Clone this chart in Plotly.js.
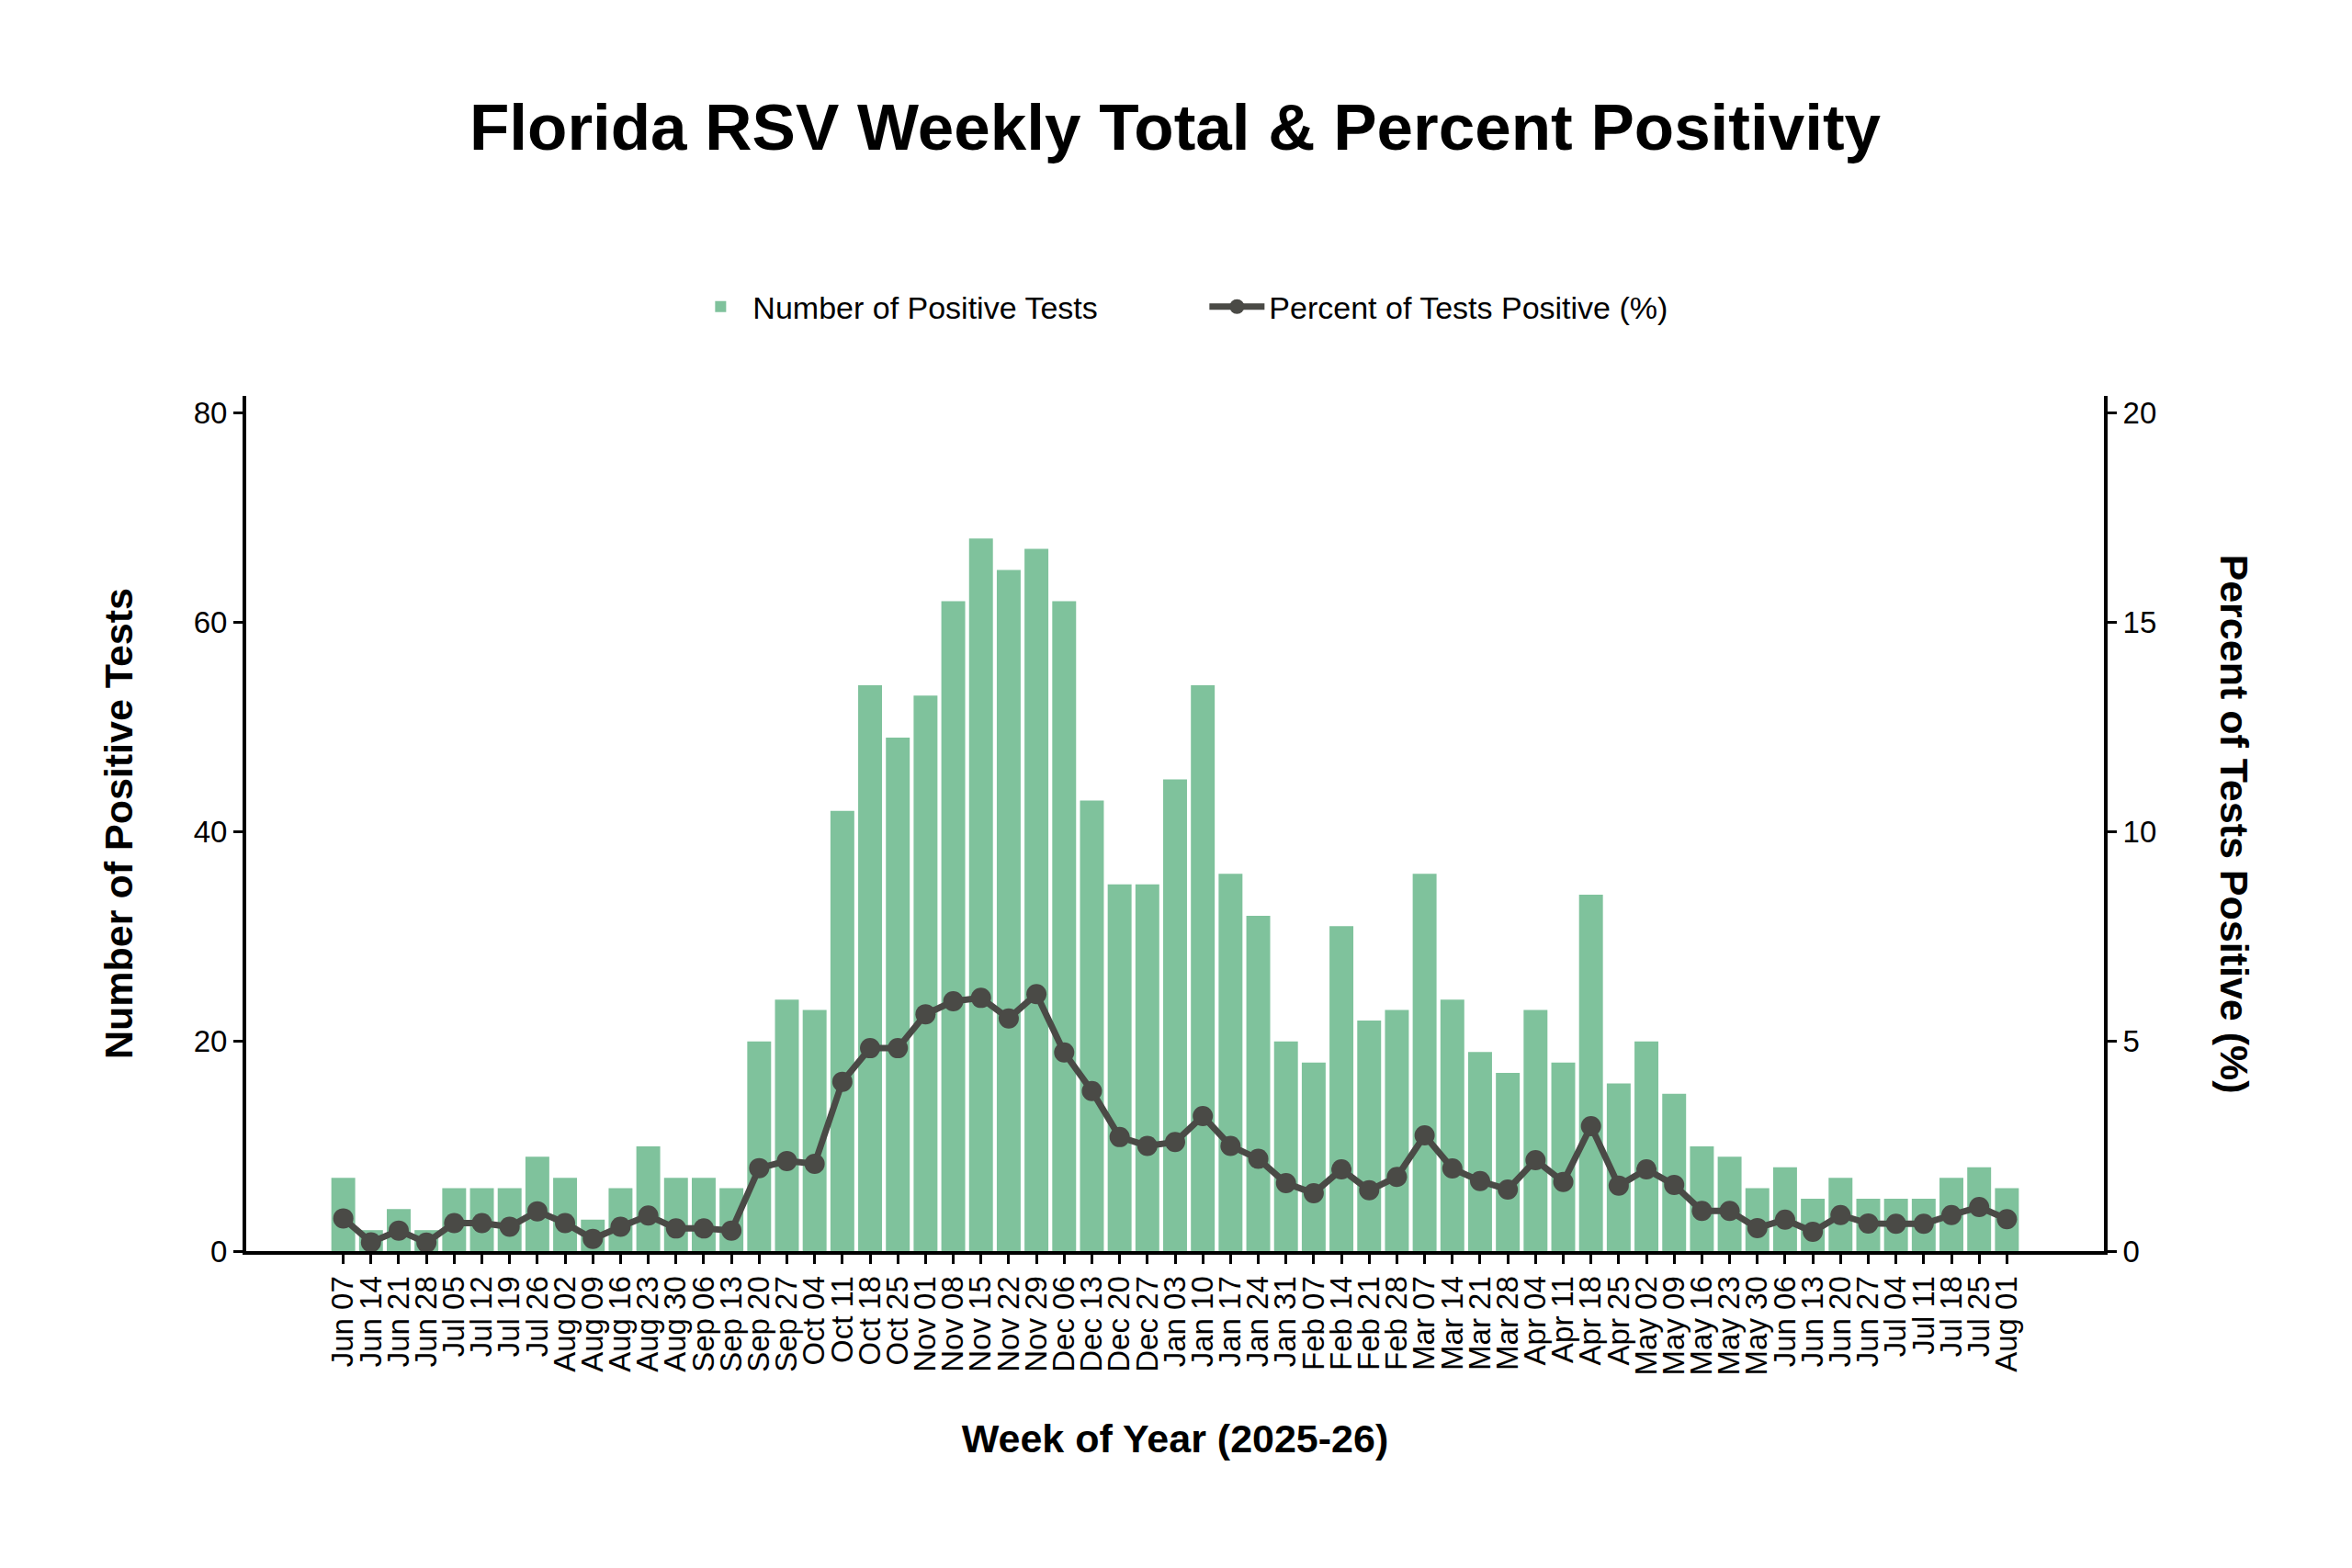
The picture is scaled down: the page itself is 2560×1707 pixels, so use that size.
<!DOCTYPE html>
<html>
<head>
<meta charset="utf-8">
<script src="https://cdn.plot.ly/plotly-3.0.1.min.js"></script>
<style>html,body{margin:0;padding:0;background:#fff;}#chart{width:2560px;height:1707px;}</style>
</head>
<body>
<div id="chart"></div>
<script>
const weeks = ["Jun 07","Jun 14","Jun 21","Jun 28","Jul 05","Jul 12","Jul 19","Jul 26","Aug 02","Aug 09",
  "Aug 16","Aug 23","Aug 30","Sep 06","Sep 13","Sep 20","Sep 27","Oct 04","Oct 11","Oct 18",
  "Oct 25","Nov 01","Nov 08","Nov 15","Nov 22","Nov 29","Dec 06","Dec 13","Dec 20","Dec 27",
  "Jan 03","Jan 10","Jan 17","Jan 24","Jan 31","Feb 07","Feb 14","Feb 21","Feb 28","Mar 07",
  "Mar 14","Mar 21","Mar 28","Apr 04","Apr 11","Apr 18","Apr 25","May 02","May 09","May 16",
  "May 23","May 30","Jun 06","Jun 13","Jun 20","Jun 27","Jul 04","Jul 11","Jul 18","Jul 25","Aug 01"];

const positiveTests = [7,2,4,2,6,6,6,9,7,3,
  6,10,7,7,6,20,24,23,42,54,
  49,53,62,68,65,67,62,43,35,35,
  45,54,36,32,20,18,31,22,23,36,
  24,19,17,23,18,34,16,20,15,10,
  9,6,8,5,7,5,5,5,7,8,6];

const percentPositive = [0.78,0.21,0.49,0.20,0.67,0.67,0.58,0.95,0.67,0.29,
  0.58,0.85,0.54,0.54,0.49,1.98,2.15,2.08,4.04,4.84,
  4.84,5.65,5.96,6.04,5.55,6.13,4.74,3.82,2.72,2.51,
  2.60,3.22,2.51,2.20,1.62,1.38,1.95,1.45,1.77,2.76,
  1.97,1.67,1.47,2.17,1.65,2.98,1.56,1.95,1.58,0.96,
  0.96,0.55,0.75,0.46,0.86,0.66,0.65,0.65,0.86,1.05,0.76];

const leftTicks = [0,20,40,60,80];
const rightTicks = [0,5,10,15,20];

const FONT = "Liberation Sans, Arial, Helvetica, sans-serif";
const barColor = "#7fc29c";
const lineColor = "#4a4a46";

const traces = [
  {
    type: "bar",
    name: "Number of Positive Tests",
    x: weeks,
    y: positiveTests,
    marker: {color: barColor, line: {width: 0}},
    yaxis: "y",
    hoverinfo: "x+y"
  },
  {
    type: "scatter",
    mode: "lines+markers",
    name: "Percent of Tests Positive (%)",
    x: weeks,
    y: percentPositive,
    yaxis: "y2",
    line: {color: lineColor, width: 7},
    marker: {color: lineColor, size: 22},
    hoverinfo: "x+y"
  }
];

const layout = {
  width: 2560,
  height: 1707,
  paper_bgcolor: "#ffffff",
  plot_bgcolor: "#ffffff",
  font: {family: FONT, color: "#000000", size: 33},
  margin: {l: 268, r: 270, t: 431, b: 345, pad: 0},
  bargap: 0.14,
  showlegend: true,
  title: {
    text: "<b>Florida RSV Weekly Total &amp; Percent Positivity</b>",
    font: {family: FONT, size: 71, color: "#000000"},
    x: 0.5, xref: "paper", xanchor: "center",
    y: 1 - 138/1707, yref: "container", yanchor: "middle"
  },
  legend: {
    orientation: "h",
    x: 0.516, xanchor: "center",
    y: 1.104, yanchor: "middle",
    font: {family: FONT, size: 34, color: "#000000"},
    itemwidth: 60,
    entrywidth: 487,
    entrywidthmode: "pixels",
    bgcolor: "rgba(0,0,0,0)"
  },
  xaxis: {
    type: "category",
    range: [-3.5, 63.5],
    tickmode: "array",
    tickvals: weeks,
    ticktext: weeks,
    tickangle: -90,
    ticks: "outside", ticklen: 10, tickwidth: 3, tickcolor: "#000000",
    showline: true, linecolor: "#000000", linewidth: 4,
    showgrid: false, zeroline: false,
    tickfont: {family: FONT, size: 33, color: "#000000"},
    title: {
      text: "<b>Week of Year (2025-26)</b>",
      font: {family: FONT, size: 43, color: "#000000"},
      standoff: 55
    },
    automargin: false
  },
  yaxis: {
    range: [0, 81.6],
    tickvals: leftTicks,
    ticktext: leftTicks.map(String),
    ticks: "outside", ticklen: 10, tickwidth: 3, tickcolor: "#000000",
    showline: true, linecolor: "#000000", linewidth: 4,
    showgrid: false, zeroline: false,
    tickfont: {family: FONT, size: 33, color: "#000000"},
    title: {
      text: "<b>Number of Positive Tests</b>",
      font: {family: FONT, size: 43, color: "#000000"},
      standoff: 54
    },
    automargin: false
  },
  yaxis2: {
    overlaying: "y",
    side: "right",
    range: [0, 20.4],
    tickvals: rightTicks,
    ticktext: rightTicks.map(String),
    ticks: "outside", ticklen: 10, tickwidth: 3, tickcolor: "#000000",
    showline: true, linecolor: "#000000", linewidth: 4,
    showgrid: false, zeroline: false,
    tickfont: {family: FONT, size: 33, color: "#000000"},
    automargin: false
  },
  annotations: [
    {
      text: "<b>Percent of Tests Positive (%)</b>",
      xref: "paper", yref: "paper",
      x: 1 + (2432 - 2290) / 2022, y: 0.5,
      xanchor: "center", yanchor: "middle",
      textangle: 90,
      showarrow: false,
      font: {family: FONT, size: 43, color: "#000000"}
    }
  ]
};

Plotly.newPlot("chart", traces, layout, {displayModeBar: false, staticPlot: true});
</script>
</body>
</html>
